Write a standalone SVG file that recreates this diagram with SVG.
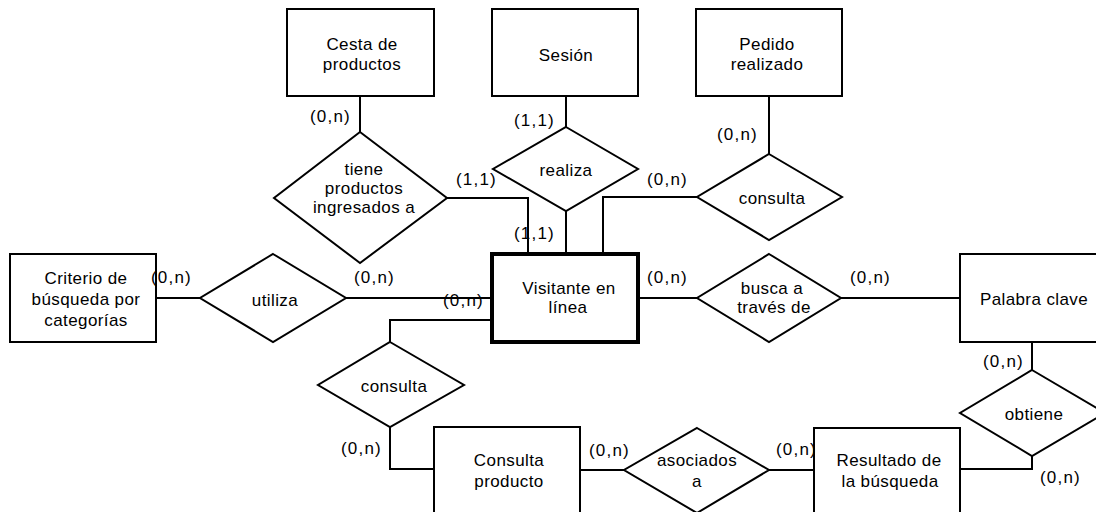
<svg xmlns="http://www.w3.org/2000/svg" width="1096" height="512" viewBox="0 0 1096 512">
<style>
  .ent { fill: #fff; stroke: #000; stroke-width: 2; }
  .strong { fill: #fff; stroke: #000; stroke-width: 4; }
  .rel { fill: #fff; stroke: #000; stroke-width: 2; }
  .ln { fill: none; stroke: #000; stroke-width: 2; }
  text { font-family: "Liberation Sans", Arial, sans-serif; font-size: 17px; fill: #000; }
  .c { text-anchor: middle; letter-spacing: 0.4px; }
  .card { letter-spacing: 1.2px; }
</style>
<rect width="1096" height="512" fill="#fff"/>
<g id="connectors">
  <polyline class="ln" points="360,96 360,132"/>
  <polyline class="ln" points="447,198 528,198 528,254"/>
  <polyline class="ln" points="566,96 566,127"/>
  <polyline class="ln" points="566,211 566,254"/>
  <polyline class="ln" points="769,96 769,154"/>
  <polyline class="ln" points="697,197 603,197 603,254"/>
  <polyline class="ln" points="156,298 200,298"/>
  <polyline class="ln" points="346,298 492,298"/>
  <polyline class="ln" points="492,320 390,320 390,342"/>
  <polyline class="ln" points="390,427 390,469 434,469"/>
  <polyline class="ln" points="580,470 624,470"/>
  <polyline class="ln" points="769,470 814,470"/>
  <polyline class="ln" points="638,298 697,298"/>
  <polyline class="ln" points="841,298 960,298"/>
  <polyline class="ln" points="1032,342 1032,370"/>
  <polyline class="ln" points="1032,456 1032,469 960,469"/>
</g>
<g id="cesta">
  <rect class="ent" x="287" y="9" width="147" height="87"/>
  <text class="c" x="362" y="50">Cesta de</text>
  <text class="c" x="362" y="70">productos</text>
</g>
<g id="sesion">
  <rect class="ent" x="492" y="9" width="146" height="87"/>
  <text class="c" x="566" y="61">Sesión</text>
</g>
<g id="pedido">
  <rect class="ent" x="696" y="9" width="146" height="87"/>
  <text class="c" x="767" y="50">Pedido</text>
  <text class="c" x="767" y="70">realizado</text>
</g>
<g id="tiene">
  <polygon class="rel" points="360,132 447,198 360,263 274,198"/>
  <text class="c" x="364" y="175">tiene</text>
  <text class="c" x="364" y="194">productos</text>
  <text class="c" x="364" y="213">ingresados a</text>
</g>
<g id="realiza">
  <polygon class="rel" points="566,127 638,169 566,211 493,169"/>
  <text class="c" x="566" y="176">realiza</text>
</g>
<g id="consulta1">
  <polygon class="rel" points="769,154 842,197 769,240 697,197"/>
  <text class="c" x="772" y="204">consulta</text>
</g>
<g id="criterio">
  <rect class="ent" x="10" y="254" width="146" height="88"/>
  <text class="c" x="86" y="284">Criterio de</text>
  <text class="c" x="86" y="305">búsqueda por</text>
  <text class="c" x="86" y="326">categorías</text>
</g>
<g id="utiliza">
  <polygon class="rel" points="273,254 346,298 273,342 200,298"/>
  <text class="c" x="275" y="306">utiliza</text>
</g>
<g id="visitante">
  <rect class="strong" x="492" y="254" width="146" height="88"/>
  <text class="c" x="569" y="294">Visitante en</text>
  <text class="c" x="568" y="313">línea</text>
</g>
<g id="busca">
  <polygon class="rel" points="769,254 841,298 769,342 697,298"/>
  <text class="c" x="772" y="294">busca a</text>
  <text class="c" x="774" y="313">través de</text>
</g>
<g id="palabra">
  <rect class="ent" x="960" y="254" width="146" height="88"/>
  <text class="c" x="1034" y="305">Palabra clave</text>
</g>
<g id="consulta2">
  <polygon class="rel" points="390,342 464,385 390,427 318,385"/>
  <text class="c" x="394" y="392">consulta</text>
</g>
<g id="obtiene">
  <polygon class="rel" points="1032,370 1105,413 1032,456 960,413"/>
  <text class="c" x="1034" y="420">obtiene</text>
</g>
<g id="consultaProducto">
  <rect class="ent" x="434" y="427" width="146" height="88"/>
  <text class="c" x="509" y="466">Consulta</text>
  <text class="c" x="509" y="487">producto</text>
</g>
<g id="asociados">
  <polygon class="rel" points="697,428 769,470 697,513 624,470"/>
  <text class="c" x="697" y="466">asociados</text>
  <text class="c" x="697" y="487">a</text>
</g>
<g id="resultado">
  <rect class="ent" x="814" y="428" width="146" height="88"/>
  <text class="c" x="889" y="466">Resultado de</text>
  <text class="c" x="890" y="487">la búsqueda</text>
</g>
<g id="cardinalities">
  <text class="card" x="310" y="122">(0,n)</text>
  <text class="card" x="514" y="126">(1,1)</text>
  <text class="card" x="456" y="185">(1,1)</text>
  <text class="card" x="514" y="239">(1,1)</text>
  <text class="card" x="717" y="140">(0,n)</text>
  <text class="card" x="647" y="185">(0,n)</text>
  <text class="card" x="151" y="283">(0,n)</text>
  <text class="card" x="354" y="283">(0,n)</text>
  <text class="card" x="443" y="306">(0,n)</text>
  <text class="card" x="341" y="454">(0,n)</text>
  <text class="card" x="647" y="283">(0,n)</text>
  <text class="card" x="589" y="456">(0,n)</text>
  <text class="card" x="850" y="283">(0,n)</text>
  <text class="card" x="983" y="367">(0,n)</text>
  <text class="card" x="776" y="455">(0,n)</text>
  <text class="card" x="1040" y="483">(0,n)</text>
</g>
</svg>
